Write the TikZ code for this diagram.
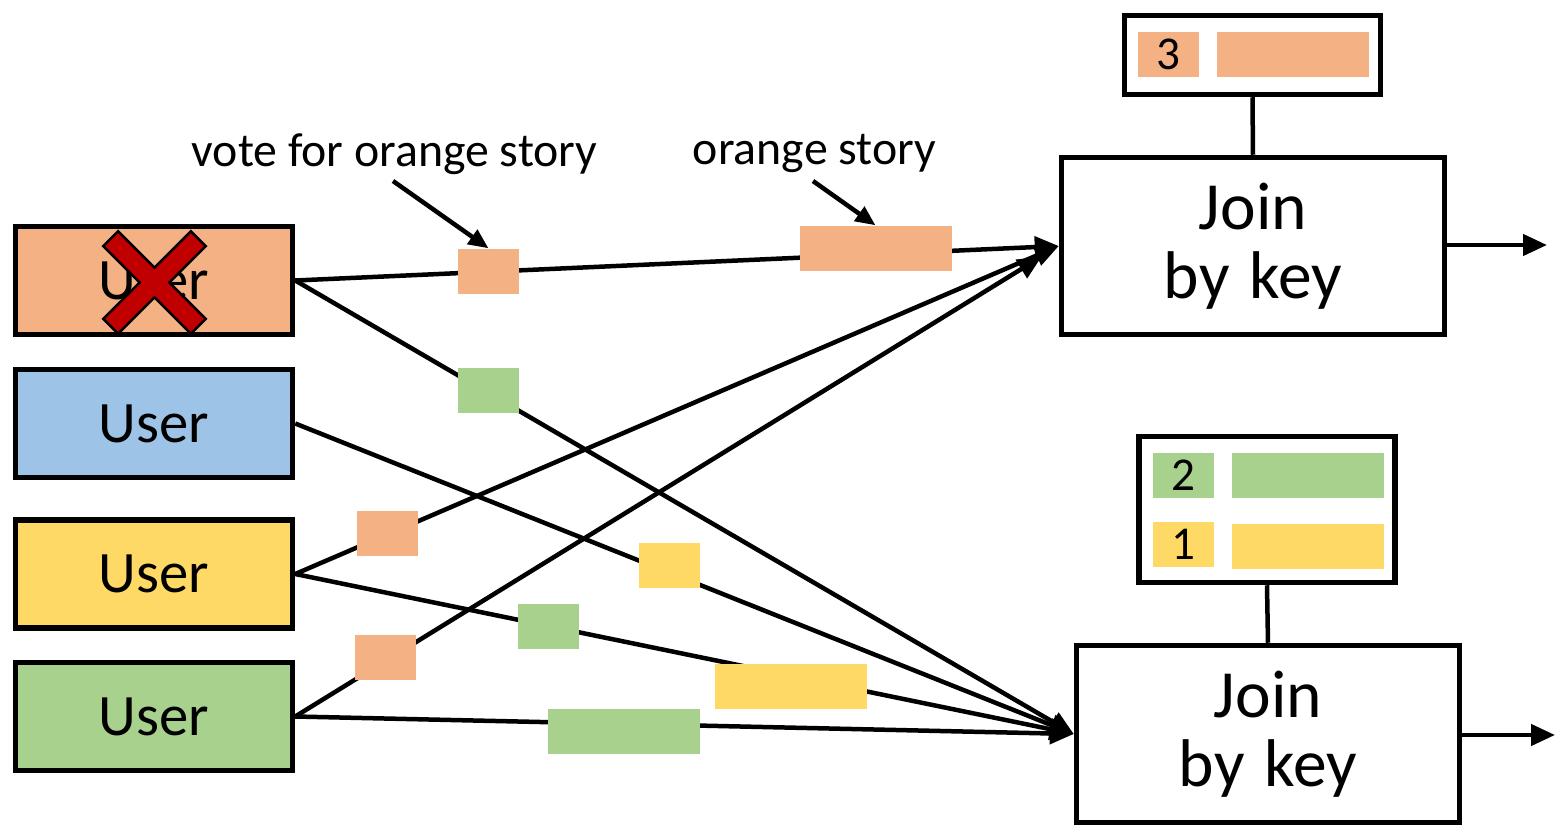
\documentclass[tikz,border=0pt]{standalone}
\usepackage{fontspec}
\setmainfont{Carlito}
\usetikzlibrary{arrows.meta}
\definecolor{corange}{HTML}{F4B183}
\definecolor{cblue}{HTML}{9DC3E6}
\definecolor{cyellow}{HTML}{FFD966}
\definecolor{cgreen}{HTML}{A9D18E}
\definecolor{cred}{HTML}{C00000}
\tikzset{
  userbox/.style={draw=black, line width=0.055cm, minimum width=2.77cm, minimum height=1.08cm,
    inner sep=0, font=\fontsize{16.7pt}{18pt}\selectfont},
  joinbox/.style={draw=black, fill=white, line width=0.055cm, minimum width=3.83cm, minimum height=1.77cm,
    inner sep=0, align=center, font=\fontsize{19.2pt}{19.6pt}\selectfont},
  tablebox/.style={draw=black, fill=white, line width=0.055cm, minimum width=2.56cm, inner sep=0},
  pkt/.style={minimum width=0.61cm, minimum height=0.45cm, inner sep=0, font=\fontsize{13.4pt}{15pt}\selectfont},
  longpkt/.style={minimum width=1.52cm, minimum height=0.45cm, inner sep=0},
  flow/.style={line width=0.045cm, -{Triangle[length=0.24cm, width=0.21cm]}},
  pointer/.style={line width=0.045cm, -{Triangle[length=0.2cm, width=0.17cm]}},
  stem/.style={line width=0.045cm},
  lbl/.style={inner sep=0, anchor=base, font=\fontsize{13.6pt}{15pt}\selectfont}
}
\begin{document}
\begin{tikzpicture}
\useasboundingbox (0,0) rectangle (15.55,-8.26);

% user boxes
\node[userbox, fill=corange] (u1) at (1.54,-2.805) {User};
\node[userbox, fill=cblue]   (u2) at (1.54,-4.235) {User};
\node[userbox, fill=cyellow] (u3) at (1.54,-5.74)  {User};
\node[userbox, fill=cgreen]  (u4) at (1.54,-7.165) {User};

% join operators
\node[joinbox] (j1) at (12.53,-2.46) {Join\\by\hspace{0.3em}key};
\node[joinbox] (j2) at (12.68,-7.34) {Join\\by\hspace{0.3em}key};

% state tables
\node[tablebox, minimum height=0.79cm] (t1) at (12.525,-0.55) {};
\node[tablebox, minimum height=1.46cm] (t2) at (12.67,-5.095) {};
\draw[stem] (t1.south) -- (j1.north);
\draw[stem] (t2.south) -- (j2.north);

\node[pkt, fill=corange] (c3) at (11.685,-0.545) {3};
\node[longpkt, fill=corange] (c3v) at (12.93,-0.545) {};
\node[pkt, fill=cgreen] (c2) at (11.835,-4.755) {2};
\node[longpkt, fill=cgreen] (c2v) at (13.08,-4.755) {};
\node[pkt, fill=cyellow] (c1) at (11.835,-5.445) {1};
\node[longpkt, fill=cyellow] (c1v) at (13.08,-5.465) {};

% streams into the joins
\draw[flow] (u1.east) -- (j1.west);
\draw[flow] (u3.east) -- (j1.west);
\draw[flow, shorten >=0.2cm] (u4.east) -- (j1.west);
\draw[flow] (u1.east) -- (j2.west);
\draw[flow] (u2.east) -- (j2.west);
\draw[flow] (u3.east) -- (j2.west);
\draw[flow] (u4.east) -- (j2.west);

% outputs
\coordinate (o1) at (15.47,-2.45);
\coordinate (o2) at (15.55,-7.35);
\draw[flow] (j1.east |- o1) -- (o1);
\draw[flow] (j2.east |- o2) -- (o2);

% records in flight
\node[pkt, fill=corange] (p1) at (4.885,-2.715) {};
\node[longpkt, fill=corange] (s1) at (8.755,-2.485) {};
\node[pkt, fill=cgreen]  (p2) at (4.885,-3.905) {};
\node[pkt, fill=corange] (p3) at (3.87,-5.335) {};
\node[pkt, fill=cyellow] (p4) at (6.69,-5.655) {};
\node[pkt, fill=cgreen]  (p5) at (5.48,-6.265) {};
\node[pkt, fill=corange] (p6) at (3.85,-6.575) {};
\node[longpkt, fill=cyellow] (s2) at (7.905,-6.865) {};
\node[longpkt, fill=cgreen]  (s3) at (6.235,-7.315) {};

% annotations
\node[lbl] (l1) at (3.945,-1.67) {vote for orange story};
\node[lbl] (l2) at (8.145,-1.65) {orange story};
\coordinate (a1) at (3.93,-1.81);
\coordinate (a2) at (8.13,-1.81);
\draw[pointer] (a1) -- (p1.north);
\draw[pointer] (a2) -- (s1.north);

% failed user
\begin{scope}[shift={(1.545,-2.825)}, rotate=45]
  \filldraw[fill=cred, draw=black, line width=0.025cm]
    (0.105,0.105) -- (0.62,0.105) -- (0.62,-0.105) -- (0.105,-0.105) --
    (0.105,-0.62) -- (-0.105,-0.62) -- (-0.105,-0.105) -- (-0.62,-0.105) --
    (-0.62,0.105) -- (-0.105,0.105) -- (-0.105,0.62) -- (0.105,0.62) -- cycle;
\end{scope}
\end{tikzpicture}
\end{document}
